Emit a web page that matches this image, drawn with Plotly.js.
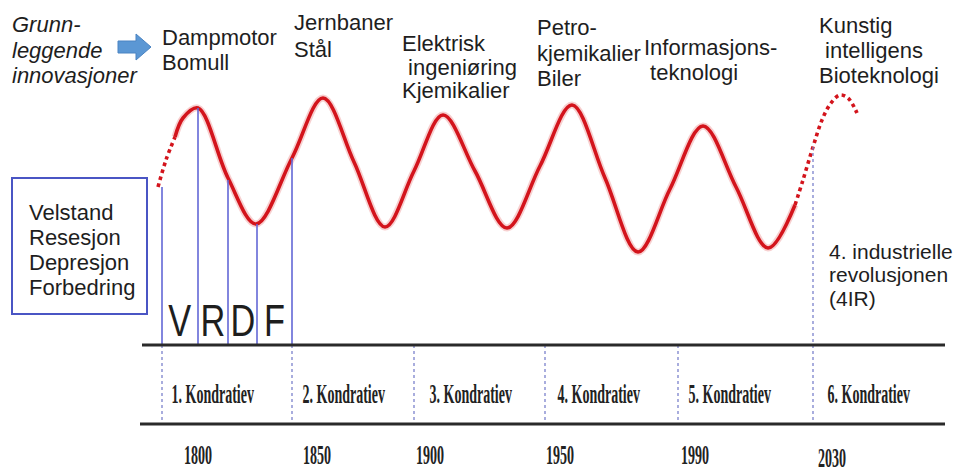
<!DOCTYPE html>
<html>
<head>
<meta charset="utf-8">
<script src="https://cdn.plot.ly/plotly-3.0.1.min.js"></script>
<style>html,body{margin:0;padding:0;background:#fff;}</style>
</head>
<body>
<div id="chart" style="width:960px;height:474px;"></div>
<script>
// ---- Data (schematic pixel-space units) ----
const waveSolidX = [175,183,198,228,256,292,323,354,385,414,443,475,507,540,572,605,638,670,703,736,768,795];
const waveSolidY = [137,118,108,178,224,158,98,162,227,171,115,171,228,166,105,178,252,189,126,187,248,205];
const waveStartX = [158,166,175];
const waveStartY = [187,160,137];
const waveEndX = [795,803,813,822,831,840,848,857];
const waveEndY = [205,180,147,120,103,95,98,113];

const phaseX = [162,198,228,257,292];
const phaseTopY = [187,108,180,224,158];
const phaseLetters = ["V","R","D","F"];

const kondratievBounds = [162,292,414,545,678,813];
const kondratievLabels = ["1. Kondratiev","2. Kondratiev","3. Kondratiev","4. Kondratiev","5. Kondratiev","6. Kondratiev"];
const yearLabels = ["1800","1850","1900","1950","1990","2030"];

const innovations = [
  ["Dampmotor","Bomull"],
  ["Jernbaner","Stål"],
  ["Elektrisk"," ingeniøring","Kjemikalier"],
  ["Petro-","kjemikalier","Biler"],
  ["Informasjons-"," teknologi"],
  ["Kunstig"," intelligens","Bioteknologi"]
];
const introLines = ["Grunn-","leggende","innovasjoner"];
const phaseNames = ["Velstand","Resesjon","Depresjon","Forbedring"];
const irLines = ["4. industrielle","revolusjonen","(4IR)"];

// ---- Layout constants ----
const tableTop = 345, tableBottom = 424;
const RED = "#d3141c";
const BLUE = "#6368d6";
const TXT = "#1e1e1e";
const sans = "Liberation Sans, Arial, sans-serif";
const serif = "Liberation Serif, Times New Roman, serif";

const traces = [];
[[waveSolidX,waveSolidY,"solid"],[waveStartX,waveStartY,"dot"],[waveEndX,waveEndY,"dot"]].forEach(([x,y,d])=>{
  if (d==="solid") traces.push({x,y,mode:"lines",line:{color:"rgba(220,40,40,0.22)",width:7,shape:"spline",smoothing:1},hoverinfo:"skip"});
  traces.push({x,y,mode:"lines",line:{color:RED,width:3.6,shape:"spline",smoothing:1,dash:d},hoverinfo:"skip"});
});

// phase lines (curve to table)
const px=[],py=[];
phaseX.forEach((x,i)=>{px.push(x,x,null);py.push(phaseTopY[i],tableTop,null);});
traces.push({x:px,y:py,mode:"lines",line:{color:BLUE,width:1.6},hoverinfo:"skip"});

// dotted table dividers
const dx=[],dy=[];
kondratievBounds.forEach((x,i)=>{
  const top = (i===kondratievBounds.length-1) ? waveEndY[2] : tableTop;
  dx.push(x,x,null);dy.push(top,tableBottom,null);
});
traces.push({x:dx,y:dy,mode:"lines",line:{color:"#7b82cc",width:1.3,dash:"dot"},hoverinfo:"skip"});

// thick table lines
traces.push({x:[142,945,null,140,945],y:[tableTop,tableTop,null,tableBottom,tableBottom],mode:"lines",line:{color:"#2a2a2a",width:3.2},hoverinfo:"skip"});

const ann = [];
const scaled = {};
function add(text,x,y,font,xanchor,sx){
  ann.push({text,x,y,xref:"x",yref:"y",showarrow:false,xanchor:xanchor||"left",yanchor:"middle",font:Object.assign({family:sans,size:22,color:TXT},font||{})});
  if (sx) scaled[ann.length-1]=sx;
}
const introY=[24,50,75];
introLines.forEach((t,i)=>add("<i>"+t+"</i>",10,introY[i]));
const innovX=[160,292,400,535,642,817];
const innovY=[[37,62],[22,49],[43,67,90],[27,53,78],[47,72],[25,50,75]];
innovations.forEach((lines,k)=>lines.forEach((t,i)=>add(t,innovX[k],innovY[k][i])));
const boxY=[212,237,262,287];
phaseNames.forEach((t,i)=>add(t,27,boxY[i]));
const irY=[251,274,298];
irLines.forEach((t,i)=>add(t,827,irY[i],{size:21}));
phaseLetters.forEach((t,i)=>add(t,(phaseX[i]+phaseX[i+1])/2,320,{size:44},"center",0.78));
const labelX=[212,343,470,598,729,868];
kondratievLabels.forEach((t,i)=>add("<b>"+t+"</b>",labelX[i],393,{family:serif,size:28,color:"#222"},"center",0.5));
const yearX=[198,317,430,560,695,832];
const yearY=[455,455,455,455,455,458];
yearLabels.forEach((t,i)=>add("<b>"+t+"</b>",yearX[i],yearY[i],{family:serif,size:27,color:"#222"},"center",0.52));

const shapes = [
  {type:"rect",xref:"x",yref:"y",x0:12,x1:147,y0:178,y1:314,line:{color:"#4a55c4",width:2},fillcolor:"rgba(0,0,0,0)"},
  {type:"path",xref:"x",yref:"y",path:"M118,41 L136,41 L136,34 L151,47 L136,60 L136,53 L118,53 Z",fillcolor:"#5b97d4",line:{color:"#4a83c2",width:1}}
];

const layout = {
  width:960,height:474,margin:{l:0,r:0,t:0,b:0},
  paper_bgcolor:"#fff",plot_bgcolor:"#fff",showlegend:false,hovermode:false,
  xaxis:{range:[0,960],visible:false,fixedrange:true},
  yaxis:{range:[474,0],visible:false,fixedrange:true},
  annotations:ann,shapes:shapes
};
Plotly.newPlot("chart",traces,layout,{staticPlot:true,displayModeBar:false}).then(()=>{
  document.querySelectorAll("g.annotation").forEach(g=>{
    const idx = +g.getAttribute("data-index");
    if (scaled[idx]) {
      const t = g.querySelector("text.annotation-text");
      if (t) {
        t.style.transformBox="fill-box";
        t.style.transformOrigin="center";
        t.style.transform="scaleX("+scaled[idx]+")";
      }
    }
  });
});
</script>
</body>
</html>
